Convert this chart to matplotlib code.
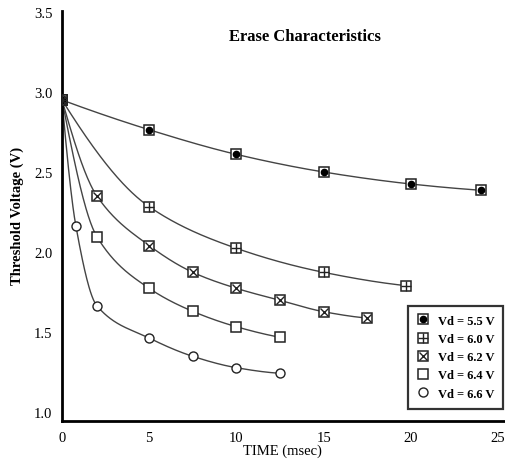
import numpy as np
import matplotlib
matplotlib.use('Agg')
import matplotlib.pyplot as plt
from matplotlib.lines import Line2D

plt.rcParams['font.family'] = ['Liberation Serif', 'DejaVu Serif']

# datos (tiempo en ms, tension umbral en V)
t_55 = [0, 5, 10, 15, 20, 24]
v_55 = [2.95, 2.764, 2.61, 2.50, 2.425, 2.386]
t_60 = [0, 5, 10, 15, 19.7]
v_60 = [2.95, 2.283, 2.023, 1.873, 1.79]
t_62 = [0, 2, 5, 7.5, 10, 12.5, 15, 17.5]
v_62 = [2.95, 2.35, 2.04, 1.873, 1.773, 1.698, 1.627, 1.587]
t_64 = [0, 2, 5, 7.5, 10, 12.5]
v_64 = [2.95, 2.096, 1.773, 1.629, 1.533, 1.467]
t_66 = [0, 0.8, 2, 5, 7.5, 10, 12.5]
v_66 = [2.95, 2.16, 1.664, 1.4625, 1.348, 1.277, 1.242]

labels = ['Vd = 5.5 V', 'Vd = 6.0 V', 'Vd = 6.2 V', 'Vd = 6.4 V', 'Vd = 6.6 V']
x_ticks = [0, 5, 10, 15, 20, 25]
y_ticks = [1.0, 1.5, 2.0, 2.5, 3.0, 3.5]


def pchip(x, y, xs):
    # curva monotona suave que pasa por los puntos
    x = np.asarray(x, float)
    y = np.asarray(y, float)
    h = np.diff(x)
    d = np.diff(y) / h
    m = np.zeros_like(y)
    for k in range(1, len(x) - 1):
        if d[k - 1] * d[k] > 0:
            w1 = 2 * h[k] + h[k - 1]
            w2 = h[k] + 2 * h[k - 1]
            m[k] = (w1 + w2) / (w1 / d[k - 1] + w2 / d[k])

    def end(h0, h1, d0, d1):
        mm = ((2 * h0 + h1) * d0 - h0 * d1) / (h0 + h1)
        if np.sign(mm) != np.sign(d0):
            mm = 0.0
        elif abs(mm) > 3 * abs(d0):
            mm = 3 * d0
        return mm
    m[0] = end(h[0], h[1], d[0], d[1])
    m[-1] = end(h[-1], h[-2], d[-1], d[-2])
    idx = np.clip(np.searchsorted(x, xs) - 1, 0, len(h) - 1)
    s = (xs - x[idx]) / h[idx]
    h00 = 2 * s**3 - 3 * s**2 + 1
    h10 = s**3 - 2 * s**2 + s
    h01 = -2 * s**3 + 3 * s**2
    h11 = s**3 - s**2
    return h00 * y[idx] + h10 * h[idx] * m[idx] + h01 * y[idx + 1] + h11 * h[idx] * m[idx + 1]


fig = plt.figure(figsize=(5.05, 4.64), dpi=100)
ax = fig.add_axes([62 / 505, 42 / 464, 443 / 505, 410 / 464])

series = [(t_55, v_55), (t_60, v_60), (t_62, v_62), (t_64, v_64), (t_66, v_66)]
for t, v in series:
    ts = np.linspace(t[0], t[-1], 300)
    ax.plot(ts, pchip(t, v, ts), color='#444444', lw=1.0, zorder=2)

sq = dict(marker='s', ms=7, mfc='white', mec='#222222', mew=1.1)
ax.plot(t_55, v_55, ls='none', zorder=3, **sq)
ax.plot(t_55, v_55, marker='o', ms=4.5, mfc='black', mec='black', ls='none', zorder=4)
ax.plot(t_60, v_60, ls='none', zorder=3, **sq)
ax.plot(t_60, v_60, marker='+', ms=7, mec='#222222', mew=1.0, ls='none', zorder=4)
ax.plot(t_62, v_62, ls='none', zorder=3, **sq)
ax.plot(t_62, v_62, marker='x', ms=6, mec='#222222', mew=1.0, ls='none', zorder=4)
ax.plot(t_64, v_64, ls='none', zorder=3, **sq)
ax.plot(t_66, v_66, marker='o', ms=6.5, mfc='white', mec='#222222', mew=1.0, ls='none', zorder=3)


# marcadores compuestos para la leyenda
def mk(**kw):
    return Line2D([], [], ls='none', **kw)


leg_handles = [
    (mk(**sq), mk(marker='o', ms=4.5, mfc='black', mec='black')),
    (mk(**sq), mk(marker='+', ms=7, mec='#222222', mew=1.0)),
    (mk(**sq), mk(marker='x', ms=6, mec='#222222', mew=1.0)),
    mk(**sq),
    mk(marker='o', ms=6.5, mfc='white', mec='#222222', mew=1.0),
]
leg = ax.legend(leg_handles, labels, loc='upper left', bbox_to_anchor=((408 - 62) / 443, (422 - 307) / 410),
                frameon=True, fancybox=False, edgecolor='black', fontsize=9,
                handlelength=1.0, handletextpad=0.7, labelspacing=0.5, borderpad=0.7,
                borderaxespad=0)
leg.get_frame().set_linewidth(1.6)
for txt in leg.get_texts():
    txt.set_fontweight('bold')

ax.set_xlim(0, 25.4)
ax.set_ylim(0.944, 3.506)
ax.set_xticks(x_ticks)
ax.set_yticks(y_ticks)
ax.set_xticklabels([str(x) for x in x_ticks])
ax.set_yticklabels(['%.1f' % y for y in y_ticks])
ax.tick_params(length=0, labelsize=10.5, pad=7)
for s in ['top', 'right']:
    ax.spines[s].set_visible(False)
for s in ['left', 'bottom']:
    ax.spines[s].set_linewidth(2)

fig.text(282 / 505, 1 - 451 / 464, 'TIME (msec)', fontsize=10.5, ha='center', va='center')
fig.text(17 / 505, 1 - 216 / 464, 'Threshold Voltage (V)', fontsize=10.5, fontweight='bold',
         rotation=90, ha='center', va='center')
fig.text(305 / 505, 1 - 37 / 464, 'Erase Characteristics', fontsize=12, fontweight='bold',
         ha='center', va='center')

fig.savefig('out.png', dpi=100)
